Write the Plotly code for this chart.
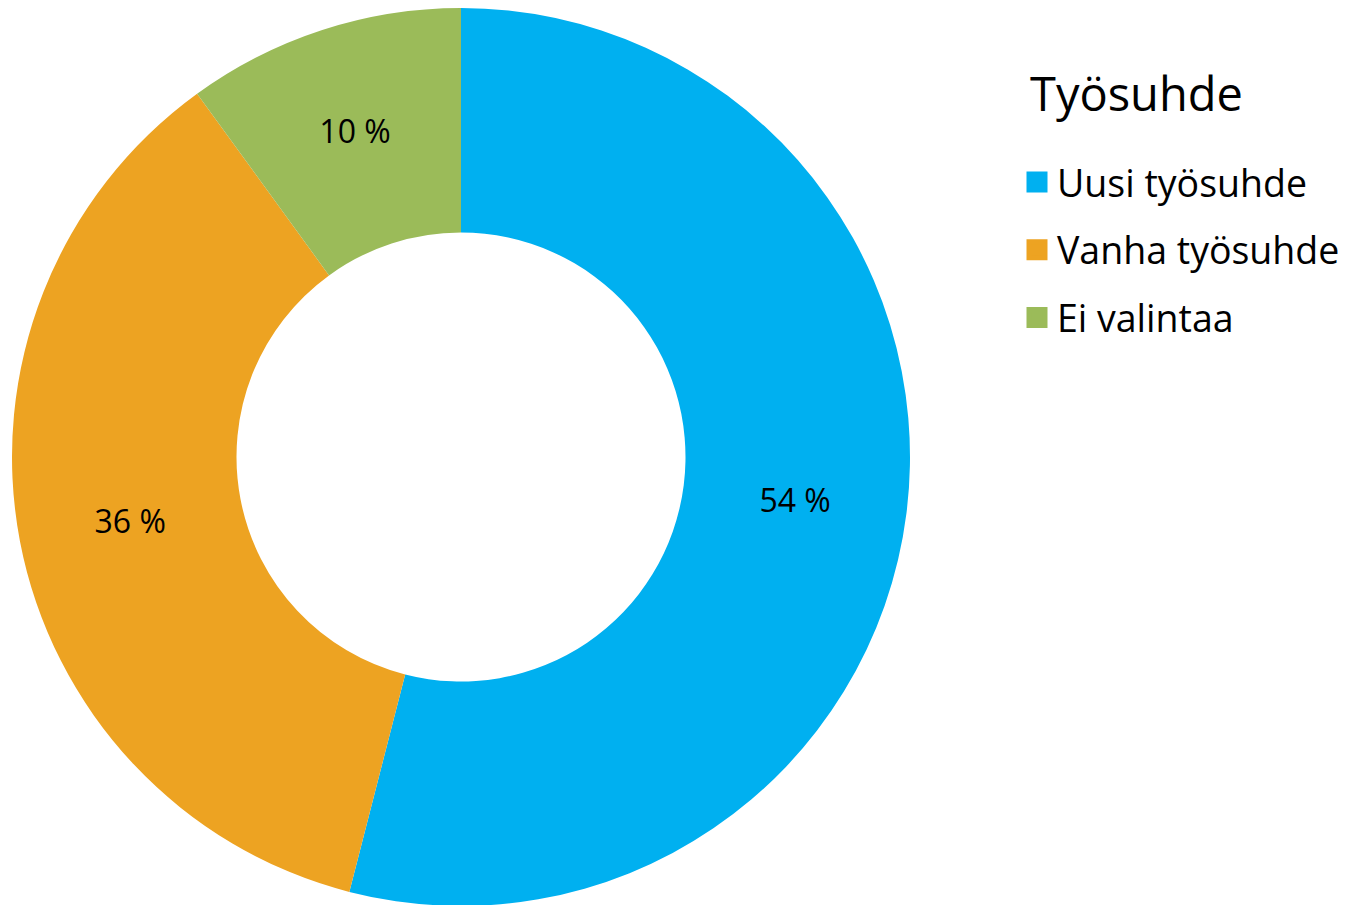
import plotly.graph_objects as go

labels = ["Uusi työsuhde", "Vanha työsuhde", "Ei valintaa"]
values = [54, 36, 10]
text_labels = ["54 %", "36 %", "10 %"]
colors = ["#00B0F0", "#EDA322", "#9BBB59"]
legend_title = "Työsuhde"

FONT = "Open Sans, sans-serif"
W, H = 1353, 905

fig = go.Figure()
fig.add_trace(go.Pie(
    labels=labels,
    values=values,
    text=text_labels,
    textinfo="text",
    textposition="inside",
    insidetextorientation="horizontal",
    hole=0.5,
    sort=False,
    direction="clockwise",
    rotation=0,
    showlegend=False,
    hoverinfo="label+percent",
    marker=dict(colors=colors, line=dict(width=0)),
    textfont=dict(family=FONT, size=32, color="black"),
    domain=dict(x=[3 / W, 903 / W], y=[(H - 898) / H, 1]),
))

# legend entries (one per category, same colours as the slices)
for lab, col in zip(labels, colors):
    fig.add_trace(go.Scatter(
        x=[None], y=[None], mode="markers", name=lab, legendgroup=lab,
        marker=dict(symbol="square", size=16, color=col, line=dict(width=6, color=col)),
        showlegend=True, hoverinfo="skip",
    ))

fig.update_layout(
    width=W, height=H,
    margin=dict(l=0, r=0, t=0, b=0),
    paper_bgcolor="white",
    plot_bgcolor="white",
    xaxis=dict(visible=False),
    yaxis=dict(visible=False),
    legend=dict(
        font=dict(family=FONT, size=37.5, color="black"),
        x=1009 / W, y=1 - 143 / H, xanchor="left", yanchor="top",
        tracegroupgap=16,
        bgcolor="rgba(0,0,0,0)",
    ),
    annotations=[dict(
        text=legend_title, xref="paper", yref="paper",
        x=1020 / W, y=1 - 85 / H, xanchor="left", yanchor="middle",
        showarrow=False, font=dict(family=FONT, size=47, color="black"),
    )],
)

fig.write_html("out.html")
